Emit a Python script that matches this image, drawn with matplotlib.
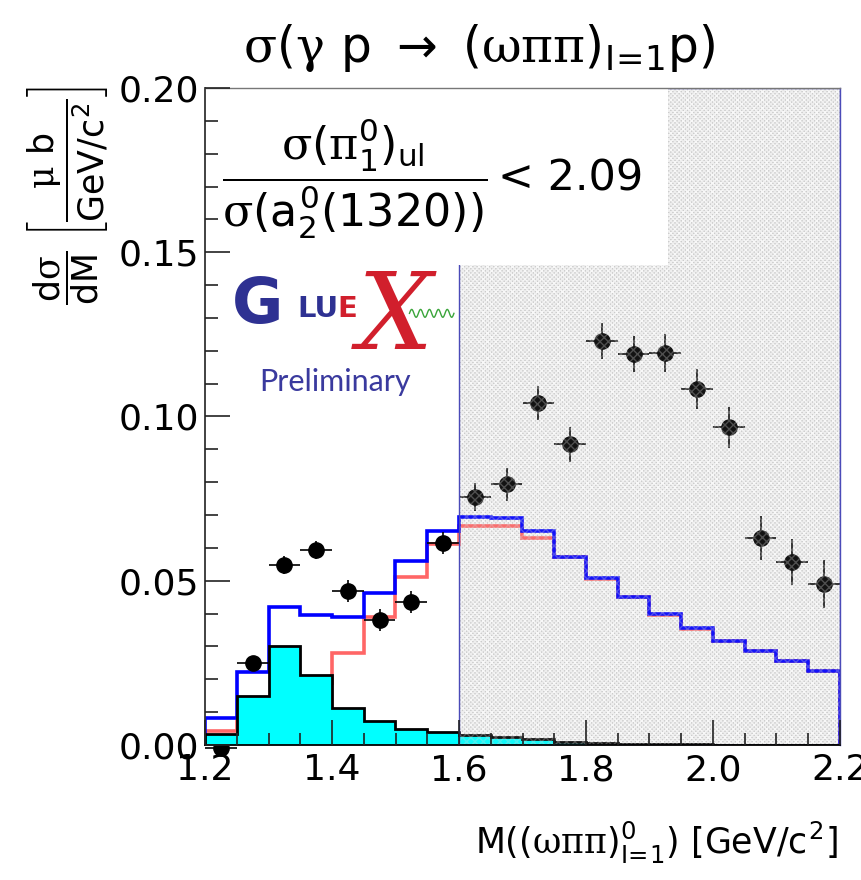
import numpy as np
import matplotlib
matplotlib.use('Agg')
import matplotlib.pyplot as plt
from matplotlib.patches import Rectangle
from matplotlib.ticker import MultipleLocator, FormatStrFormatter

# ---------------- data ----------------
bin_edges = [1.20, 1.25, 1.30, 1.35, 1.40, 1.45, 1.50, 1.55, 1.60, 1.65, 1.70,
             1.75, 1.80, 1.85, 1.90, 1.95, 2.00, 2.05, 2.10, 2.15, 2.20]
mass = [1.225, 1.275, 1.325, 1.375, 1.425, 1.475, 1.525, 1.575, 1.625, 1.675,
        1.725, 1.775, 1.825, 1.875, 1.925, 1.975, 2.025, 2.075, 2.125, 2.175]
xsec = [-0.0008, 0.0250, 0.0548, 0.0594, 0.0469, 0.0380, 0.0435, 0.0615, 0.0755, 0.0794,
        0.1042, 0.0916, 0.1230, 0.1190, 0.1194, 0.1084, 0.0967, 0.0629, 0.0558, 0.0490]
xsec_err = [0.0020, 0.0022, 0.0027, 0.0028, 0.0033, 0.0033, 0.0033, 0.0033, 0.0044, 0.0050,
            0.0052, 0.0053, 0.0054, 0.0055, 0.0058, 0.0060, 0.0062, 0.0067, 0.0070, 0.0072]
total_model = [0.0081, 0.0221, 0.0421, 0.0396, 0.0390, 0.0462, 0.0560, 0.0650, 0.0695, 0.0690,
               0.0651, 0.0573, 0.0507, 0.0452, 0.0399, 0.0355, 0.0318, 0.0287, 0.0257, 0.0226]
pi1_model = [0.0044, 0.0074, 0.0120, 0.0190, 0.0281, 0.0390, 0.0510, 0.0612, 0.0667, 0.0667,
             0.0629, 0.0571, 0.0505, 0.0450, 0.0397, 0.0353, 0.0316, 0.0285, 0.0255, 0.0224]
a2_model = [0.0032, 0.0149, 0.0302, 0.0213, 0.0114, 0.0074, 0.0050, 0.0040, 0.0030, 0.0025,
            0.0018, 0.0010, 0.0006, 0.0004, 0.0003, 0.0002, 0.0001, 0.0001, 0.0001, 0.0000]
bin_half_width = [0.025] * len(mass)
excluded_region = (1.6, 2.2)
ratio_text = "< 2.09"

# ---------------- style ----------------
plt.rcParams['font.family'] = ['DejaVu Sans']
plt.rcParams['mathtext.fontset'] = 'custom'
plt.rcParams['mathtext.rm'] = 'DejaVu Sans'
plt.rcParams['mathtext.it'] = 'DejaVu Sans'
plt.rcParams['mathtext.sf'] = 'DejaVu Serif'
plt.rcParams['mathtext.bf'] = 'DejaVu Sans:bold'
plt.rcParams['hatch.linewidth'] = 1.0

fig = plt.figure(figsize=(8.61, 8.80), dpi=100)
ax = fig.add_axes([205/861, 135/880, 635/861, 657/880])
ax.set_xlim(1.2, 2.2)
ax.set_ylim(0.0, 0.2)

# excluded (shaded) region, background layer
x0, x1 = excluded_region
ax.add_patch(Rectangle((x0, 0), x1 - x0, 0.2, facecolor='#cdcdcd', edgecolor='white',
                       hatch='xxxxxxxx', lw=0, zorder=0.5))

# model histograms
ax.stairs(pi1_model, bin_edges, color='#ff6666', lw=2.6, zorder=2)
ax.stairs(total_model, bin_edges, color='#0000ff', lw=2.6, zorder=2.1)

# data points
ax.errorbar(mass, xsec, yerr=xsec_err, xerr=bin_half_width, fmt='o', color='black',
            ms=11, elinewidth=1.2, capsize=0, zorder=2.5, clip_on=False)

# a2 contribution (filled)
ax.stairs(a2_model, bin_edges, fill=True, facecolor='#00ffff', edgecolor='none', zorder=3)
ax.stairs(a2_model, bin_edges, color='black', lw=2.0, zorder=3.1)

# overlay of the shaded region on top of the data
ax.add_patch(Rectangle((x0, 0), x1 - x0, 0.2, facecolor=(0.75, 0.75, 0.75, 0.10),
                       edgecolor=(0.85, 0.85, 0.85, 0.30), hatch='xxxx', lw=0, zorder=4))
ax.add_patch(Rectangle((x0, 0), x1 - x0, 0.2, facecolor='none', edgecolor='#4a4ab8',
                       lw=1.0, zorder=4.5))

# white text box
ax.add_patch(Rectangle((0, 0.7306), 0.729, 0.2694, transform=ax.transAxes,
                       facecolor='white', edgecolor='none', zorder=5))
ax.text(0.236, 0.862,
        r'$\dfrac{\mathsf{\sigma}(\mathsf{\pi}^{0}_{1})_{ul}}{\mathsf{\sigma}(a^{0}_{2}(1320))}$',
        transform=ax.transAxes, ha='center', va='center', fontsize=32, zorder=6)
ax.text(0.462, 0.862, ratio_text, transform=ax.transAxes, ha='left', va='center',
        fontsize=31, zorder=6)

# GlueX logo
ax.text(0.042, 0.668, 'G', transform=ax.transAxes, ha='left', va='center',
        fontsize=45, fontweight='bold', color='#2e3192', zorder=6)
ax.text(0.146, 0.664, 'LU', transform=ax.transAxes, ha='left', va='center',
        fontsize=21, fontweight='bold', color='#2e3192', zorder=6)
ax.text(0.208, 0.664, 'E', transform=ax.transAxes, ha='left', va='center',
        fontsize=21, fontweight='bold', color='#d11f2c', zorder=6)
ax.text(0.300, 0.648, 'X', transform=ax.transAxes, ha='center', va='center',
        fontsize=76, fontstyle='italic', family='DejaVu Serif', color='#d11f2c', zorder=6)
t = np.linspace(0, 1, 120)
ax.plot(0.322 + 0.07 * t, 0.657 + 0.006 * np.sin(2 * np.pi * 5 * t), transform=ax.transAxes,
        color='#3aa53a', lw=1.0, zorder=6)
ax.text(0.205, 0.553, 'Preliminary', transform=ax.transAxes, ha='center', va='center',
        fontsize=22, family='Lato', color='#3a3a9e', zorder=6)

# axes styling
for s in ['left', 'bottom', 'top', 'right']:
    ax.spines[s].set_zorder(10)
ax.spines['left'].set_color('#333333')
ax.spines['left'].set_linewidth(1.3)
ax.spines['bottom'].set_color('black')
ax.spines['bottom'].set_linewidth(1.3)
ax.spines['top'].set_color('#777777')
ax.spines['top'].set_linewidth(1.0)
ax.spines['right'].set_color('#4a4ab8')
ax.spines['right'].set_linewidth(1.0)
ax.xaxis.set_zorder(10)
ax.yaxis.set_zorder(10)

ax.xaxis.set_major_locator(MultipleLocator(0.2))
ax.xaxis.set_minor_locator(MultipleLocator(0.05))
ax.yaxis.set_major_locator(MultipleLocator(0.05))
ax.yaxis.set_minor_locator(MultipleLocator(0.01))
ax.xaxis.set_major_formatter(FormatStrFormatter('%.1f'))
ax.yaxis.set_major_formatter(FormatStrFormatter('%.2f'))
ax.tick_params(which='both', direction='in', top=False, right=False, color='#222222')
ax.tick_params(which='major', length=18, width=1.2, labelsize=26)
ax.tick_params(axis='y', which='major', pad=4)
ax.tick_params(axis='x', which='major', pad=6)
ax.tick_params(which='minor', length=9, width=1.2)

# titles / labels
fig.text(0.557, 0.945,
         r'$\mathsf{\sigma}(\mathsf{\gamma}\ p\ \rightarrow\ (\mathsf{\omega\pi\pi})_{I\!=\!1}p)$',
         ha='center', va='center', fontsize=35)
fig.text(68/861, 1 - 86/880,
         r'$\dfrac{d\mathsf{\sigma}}{dM}\ \left[\dfrac{\mathsf{\mu}\ b}{GeV/c^{2}}\right]$',
         rotation=90, ha='center', va='top', fontsize=25)
fig.text(838/861, 0.042,
         r'$M((\mathsf{\omega\pi\pi})^{0}_{I\!=\!1})\ [GeV/c^{2}]$',
         ha='right', va='center', fontsize=25)

fig.savefig('out.png', dpi=100)
